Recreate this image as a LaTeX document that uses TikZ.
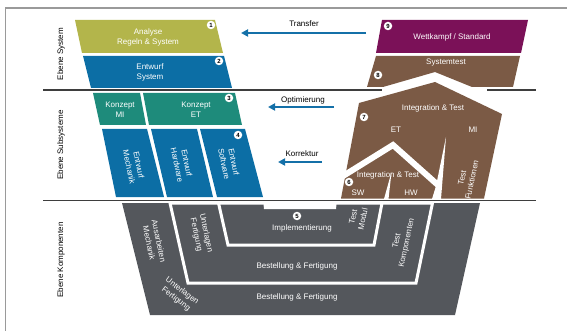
\documentclass[tikz,border=0pt]{standalone}
\usepackage{fontspec}
\setmainfont{Liberation Sans}
\usetikzlibrary{arrows.meta}
\definecolor{cOlive}{HTML}{B3B54B}
\definecolor{cBlue}{HTML}{0C6EA5}
\definecolor{cTeal}{HTML}{1E8B7B}
\definecolor{cPurple}{HTML}{7B1158}
\definecolor{cBrown}{HTML}{7B5A45}
\definecolor{cGray}{HTML}{54575C}
\definecolor{cArrow}{HTML}{1470A8}
\definecolor{cFrame}{HTML}{9A9A9A}
\definecolor{cLine}{HTML}{3E3E3E}
\begin{document}
\begin{tikzpicture}[x=1pt,y=-1pt,
  lbl/.style={font=\fontsize{8}{10}\selectfont, text=white, align=center, inner sep=0pt},
  blk/.style={font=\fontsize{8}{10}\selectfont, text=black, align=center, inner sep=0pt},
  num/.style={circle, fill=white, inner sep=0pt, minimum size=8.5pt, font=\fontsize{6}{6}\selectfont\bfseries, text=black},
  arr/.style={draw=cArrow, line width=2.2pt, -{Triangle[length=7pt,width=7pt]}},
  gap/.style={draw=white, line width=3pt, line join=miter},
  sepline/.style={draw=cLine, line width=1.2pt},
  framel/.style={draw=cFrame, line width=1.5pt}]
\useasboundingbox (0,0) rectangle (567,331);
% frame
\draw[framel] (5.5,331) -- (5.5,8) -- (567,8);
% level separators
\draw[sepline] (43,90) -- (382,90);
\draw[sepline] (487,90) -- (536,90);
% ---- left branch
\fill[cOlive] (75,20) -- (215,20) -- (223,53) -- (82,53) -- cycle;
\fill[cBlue] (83,56) -- (224,56) -- (232,88) -- (91,88) -- cycle;
\fill[cTeal] (93,93) -- (140,93) -- (146,125) -- (100,125) -- cycle;
\fill[cTeal] (143,93) -- (235,93) -- (242,125) -- (149,125) -- cycle;
\fill[cBlue] (102,129) -- (147,129) -- (164,197) -- (116,197) -- cycle;
\fill[cBlue] (151,129) -- (197,129) -- (213,197) -- (167,197) -- cycle;
\fill[cBlue] (200,129) -- (245,129) -- (263,197) -- (217,197) -- cycle;
% ---- right branch
\fill[cPurple] (382,20) -- (528,20) -- (521,53) -- (376,53) -- cycle;
\fill[cBrown] (376,56) -- (520,56) -- (513,87) -- (472,87) -- (435,72) -- (383,87) -- (367,87) -- cycle;
\fill[cBrown] (359,103) -- (435,82) -- (502,114) -- (484,198.5) -- (341,198.5) -- cycle;
\draw[white, line width=6pt] (339,178.5) -- (393,145) -- (438.5,185.5);
\fill[white] (446,137) -- (441,199) -- (432,199) -- (436,186) -- cycle;
\fill[white] (391.5,172) -- (388.5,199) -- (384,199) -- cycle;
% ---- bottom (components)
\fill[cGray] (122,203) -- (480,203) -- (455,315) -- (150,315) -- cycle;
\filldraw[cGray, gap] (170,203) -- (432.5,203) -- (416,283) -- (188,283) -- cycle;
\filldraw[cGray, gap] (218.5,203) -- (382,203) -- (374,245) -- (228,245) -- cycle;
\fill[white] (263,199) -- (337,199) -- (336,209) -- (264,209) -- cycle;
\draw[sepline] (43,200.5) -- (536,200.5);
% ---- level labels
\node[blk, rotate=90] (lvA) at (61,54) {Ebene System};
\node[blk, rotate=90] (lvB) at (61,145) {Ebene Subsysteme};
\node[blk, rotate=90] (lvC) at (61,260) {Ebene Komponenten};
% ---- arrows
\node[blk] (tTransfer) at (304,24) {Transfer};
\node[blk] (tOpt) at (303,100) {Optimierung};
\node[blk] (tKorr) at (302,154) {Korrektur};
\coordinate (aS1) at (366,33); \coordinate (aE1) at (241,33);
\coordinate (aS2) at (334,107); \coordinate (aE2) at (268,107);
\coordinate (aS3) at (322,162); \coordinate (aE3) at (278,162);
\draw[arr] (aS1) -- (aE1);
\draw[arr] (aS2) -- (aE2);
\draw[arr] (aS3) -- (aE3);
% ---- texts left
\node[lbl] (tAna) at (148,37) {Analyse\\Regeln \& System};
\node[lbl] (tEsys) at (150,72) {Entwurf\\System};
\node[lbl] (tKmi) at (120,109.5) {Konzept\\MI};
\node[lbl] (tKet) at (196,109.5) {Konzept\\ET};
\node[lbl, rotate=-78] (tEm) at (134,166) {Entwurf\\Mechanik};
\node[lbl, rotate=-78] (tEh) at (182,164) {Entwurf\\Hardware};
\node[lbl, rotate=-78] (tEs) at (229,163) {Entwurf\\Software};
% ---- texts right
\node[lbl] (tWett) at (452,37) {Wettkampf / Standard};
\node[lbl] (tSys) at (446,63) {Systemtest};
\node[lbl] (tIT7) at (433,108) {Integration \& Test};
\node[lbl] (tET) at (396,130) {ET};
\node[lbl] (tMI) at (473,130) {MI};
\node[lbl] (tIT6) at (388,175) {Integration \& Test};
\node[lbl] (tSW) at (358,193) {SW};
\node[lbl] (tHW) at (411,193) {HW};
\node[lbl, rotate=78] (tTF) at (467,179) {Test\\Funktionen};
% ---- texts bottom
\node[lbl] (tImpl) at (302,228) {Implementierung};
\node[lbl, rotate=78] (tTM) at (358,218) {Test\\Modul};
\node[lbl, rotate=78] (tTK) at (402,242) {Test\\Komponenten};
\node[lbl] (tBF1) at (297,266) {Bestellung \& Fertigung};
\node[lbl] (tBF2) at (297,297) {Bestellung \& Fertigung};
\node[lbl, rotate=-78] (tAM) at (154,242) {Ausarbeiten\\Mechanik};
\node[lbl, rotate=-78] (tUF1) at (201,234) {Unterlagen\\Fertigung};
\node[lbl, rotate=-37] (tUF2) at (179,295) {Unterlagen\\Fertigung};
% ---- numbers
\node[num] (n1) at (211,25) {1};
\node[num] (n2) at (219,61) {2};
\node[num] (n3) at (229,98) {3};
\node[num] (n4) at (238,135) {4};
\node[num] (n5) at (297,216) {5};
\node[num] (n6) at (349,182) {6};
\node[num] (n7) at (364,117) {7};
\node[num] (n8) at (378,75) {8};
\node[num] (n9) at (388,26) {9};
\end{tikzpicture}
\end{document}
